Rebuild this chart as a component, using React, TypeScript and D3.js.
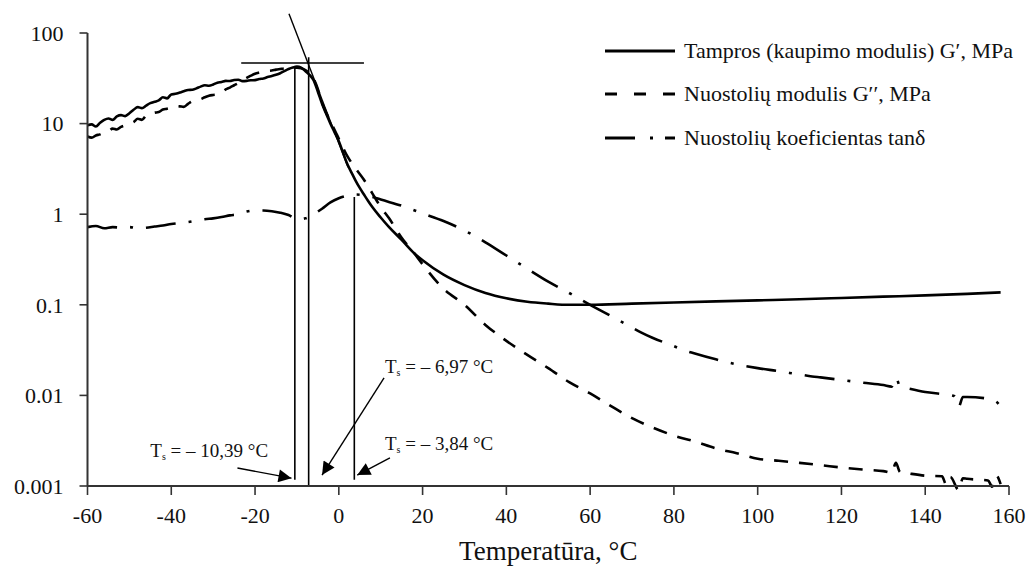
import React from "react";
import * as d3 from "d3";

// ---------- data ----------
const storageT = [-60,-59,-58,-57,-56,-55,-54,-53,-52,-51,-50,-49,-48,-47,-46,-45,-44,-43,-42,-41,-40,-39,-38,-37,-36,-35,-34,-33,-32,-31,-30,-29,-28,-27,-26,-25,-24,-23,-22,-21,-20,-19,-18,-17,-16,-15,-14,-13,-12,-11,-10,-9,-8,-7,-6,-5,-4,-3,-2,-1,0,1,2,3,4,5,6,7,8,10,12,15,18,20,25,30,35,40,45,50,55,60,70,80,90,100,110,120,130,140,150,158];
const storageG = [9.6,9.8,9.3,10.2,11.0,11.4,11.0,12.0,12.4,12.1,13.0,14.2,15.2,14.8,15.8,16.8,17.4,18.0,19.5,19.0,21.0,21.3,22.0,22.8,23.5,23.6,24.5,25.6,26.5,26.2,27.0,28.3,28.8,29.6,29.5,30.3,30.5,29.4,29.6,30.1,30.2,31.0,31.5,32.6,33.5,34.6,36.0,38.0,40.0,41.6,42.5,41.5,38.0,34.5,30.0,22.5,16.5,12.8,10.0,8.0,6.4,4.8,3.6,2.9,2.35,1.95,1.65,1.4,1.2,0.92,0.72,0.52,0.37,0.31,0.215,0.165,0.135,0.118,0.108,0.103,0.1,0.1,0.103,0.106,0.109,0.112,0.115,0.119,0.123,0.127,0.132,0.137];

const lossT = [-60,-59,-58,-57,-56,-55,-54,-53,-52,-51,-50,-49,-48,-47,-46,-45,-44,-43,-42,-41,-40,-39,-38,-37,-36,-35,-34,-33,-32,-31,-30,-29,-28,-27,-26,-25,-24,-23,-22,-21,-20,-19,-18,-17,-16,-15,-14,-13,-12,-11,-10,-9,-8,-7,-6,-5,-4,-3,-2,-1,0,2,4,6,8,10,12,15,18,20,25,30,35,40,45,50,55,60,65,70,75,80,85,90,95,100,105,110,115,120,125,130,132,133,134,135,140,144,145,146,148,149,150,155,156,157,158];
const lossG = [7.2,7.0,7.4,7.6,8.0,8.2,8.8,8.6,9.2,9.6,10.0,10.4,11.3,11.0,12.3,12.8,13.2,13.4,14.3,14.6,15.0,15.6,15.5,15.3,16.5,17.6,18.0,18.6,19.5,20.3,20.7,21.0,22.0,23.8,25.0,26.5,28.0,30.0,32.0,33.8,35.5,36.6,37.5,38.2,38.5,39.4,40.0,40.6,41.0,41.5,41.5,40.8,39.0,35.5,31.0,24.0,17.0,13.2,10.5,8.5,6.8,4.4,3.2,2.4,1.7,1.2,0.9,0.55,0.37,0.28,0.15,0.1,0.06,0.04,0.028,0.02,0.014,0.0105,0.0076,0.0056,0.0044,0.0036,0.0031,0.0026,0.0023,0.002,0.0019,0.0018,0.0017,0.0016,0.00152,0.00146,0.0014,0.0018,0.00142,0.0014,0.0013,0.00128,0.00104,0.00126,0.0009,0.00122,0.0012,0.00115,0.00098,0.0013,0.00105];

const tanT = [-60,-58,-56,-54,-52,-50,-48,-46,-44,-42,-40,-38,-36,-34,-32,-30,-28,-26,-24,-22,-20,-18,-16,-14,-12,-10,-8,-6,-4,-2,0,2,4,6,8,10,15,20,25,30,35,40,45,50,55,60,65,70,72,75,80,82,85,90,95,100,105,110,113,115,120,125,130,132,133,134,135,140,145,147,148,149,150,155,157,158];
const tanD = [0.72,0.74,0.70,0.72,0.71,0.72,0.70,0.71,0.73,0.75,0.78,0.80,0.82,0.85,0.88,0.90,0.93,0.97,1.0,1.07,1.1,1.1,1.08,1.04,0.98,0.88,0.9,1.0,1.15,1.35,1.5,1.6,1.65,1.62,1.55,1.45,1.24,1.02,0.84,0.66,0.49,0.35,0.25,0.18,0.135,0.1,0.075,0.056,0.05,0.043,0.035,0.032,0.029,0.025,0.022,0.02,0.0185,0.017,0.0162,0.0158,0.0148,0.0138,0.013,0.0125,0.0158,0.0125,0.0122,0.0109,0.0102,0.0098,0.0075,0.0096,0.0096,0.0092,0.0085,0.0075];

const xTicks = [-60,-40,-20,0,20,40,60,80,100,120,140,160];
const yTicks = [100,10,1,0.1,0.01,0.001];
const yTickLabels = ["100","10","1","0.1","0.01","0.001"];

const legendLabels = ["Tampros (kaupimo modulis) G′, MPa", "Nuostolių modulis G′′, MPa", "Nuostolių koeficientas tanδ"];

// annotation geometry (data coordinates)
const plateauLine = { t0: -23.3, t1: 6, v: 46.7 };
const tangentLine = { t0: -11.9, v0: 163, t1: 2.2, v1: 3.3 };
const vLines = [
  { t: -10.5, v0: 43, v1: 0.00117 },
  { t: -7.2, v0: 54, v1: 0.001 },
  { t: 3.7, v0: 1.55, v1: 0.00117 },
];
const arrows = [
  { t0: -24.2, v0: 0.00158, t1: -11.3, v1: 0.00122 },
  { t0: 10.8, v0: 0.0156, t1: -4.0, v1: 0.00132 },
  { t0: 12.2, v0: 0.00204, t1: 4.4, v1: 0.00132 },
];
const annLabels = [
  { t: -45, v: 0.00209, value: "– 10,39 °C" },
  { t: 11.0, v: 0.0178, value: "– 6,97 °C" },
  { t: 11.0, v: 0.00252, value: "– 3,84 °C" },
];

const FONT = "'Liberation Serif', 'Times New Roman', serif";

export default function App() {
  const W = 1032, H = 567;
  const x = d3.scaleLinear().domain([-60, 160]).range([87.5, 1009]);
  const y = d3.scaleLog().domain([0.001, 100]).range([486, 33]);

  const mk = (ts: number[], vs: number[]) =>
    d3.line<number>().x((_, i) => x(ts[i])).y((v) => y(v)).curve(d3.curveMonotoneX)(vs) || "";

  const series = [
    { d: mk(storageT, storageG), dash: undefined },
    { d: mk(lossT, lossG), dash: "14 11" },
    { d: mk(tanT, tanD), dash: "30 13 3 13" },
  ];
  const legendDash = [undefined, "12 17", "30 15 3 12 30"];
  const legendY = [51, 94, 138];
  const ts = { fontFamily: FONT };

  return (
    <svg width={W} height={H} style={{ position: "absolute", left: 0, top: 0, background: "#fff" }}>
      <defs>
        <marker id="arrowHead" viewBox="0 0 10 10" refX="10" refY="5" markerWidth="16" markerHeight="13" orient="auto" markerUnits="userSpaceOnUse">
          <path d="M0,0 L10,5 L0,10 z" fill="#000" />
        </marker>
      </defs>

      {/* data */}
      {series.map((s, i) => (
        <path key={i} d={s.d} fill="none" stroke="#000" strokeWidth={2.6} strokeDasharray={s.dash} strokeLinejoin="round" />
      ))}

      {/* annotations */}
      <line x1={x(plateauLine.t0)} x2={x(plateauLine.t1)} y1={y(plateauLine.v)} y2={y(plateauLine.v)} stroke="#000" strokeWidth={1.4} />
      <line x1={x(tangentLine.t0)} y1={y(tangentLine.v0)} x2={x(tangentLine.t1)} y2={y(tangentLine.v1)} stroke="#000" strokeWidth={1.4} />
      {vLines.map((l, i) => (
        <line key={i} x1={x(l.t)} x2={x(l.t)} y1={y(l.v0)} y2={y(l.v1)} stroke="#000" strokeWidth={1.6} />
      ))}
      {arrows.map((a, i) => (
        <line key={i} x1={x(a.t0)} y1={y(a.v0)} x2={x(a.t1)} y2={y(a.v1)} stroke="#000" strokeWidth={1.4} markerEnd="url(#arrowHead)" />
      ))}
      {annLabels.map((l, i) => (
        <text key={i} x={x(l.t)} y={y(l.v)} fontSize={19} fill="#111" style={ts}>
          T<tspan fontSize={10} dy={3}>s</tspan><tspan dy={-3}> = {l.value}</tspan>
        </text>
      ))}

      {/* axes */}
      <line x1={x(-60)} x2={x(-60)} y1={y(100)} y2={y(0.001)} stroke="#333" strokeWidth={2} />
      <line x1={x(-60)} x2={x(160)} y1={y(0.001)} y2={y(0.001)} stroke="#333" strokeWidth={2} />
      {yTicks.map((v, i) => (
        <g key={i}>
          <line x1={x(-60) - 8} x2={x(-60)} y1={y(v)} y2={y(v)} stroke="#333" strokeWidth={1.6} />
          <text x={63.5} y={y(v)} dy="0.35em" textAnchor="end" fontSize={22} fill="#111" style={ts}>{yTickLabels[i]}</text>
        </g>
      ))}
      {xTicks.map((t, i) => (
        <g key={i}>
          <line x1={x(t)} x2={x(t)} y1={y(0.001)} y2={y(0.001) + 9} stroke="#333" strokeWidth={1.6} />
          <text x={x(t)} y={523} textAnchor="middle" fontSize={22} fill="#111" style={ts}>{t}</text>
        </g>
      ))}
      <text x={(x(-60) + x(160)) / 2} y={560} textAnchor="middle" fontSize={27} fill="#111" style={ts}>Temperatūra, °C</text>

      {/* legend */}
      {legendLabels.map((lab, i) => (
        <g key={i}>
          <line x1={605} x2={675} y1={legendY[i]} y2={legendY[i]} stroke="#000" strokeWidth={3} strokeDasharray={legendDash[i]} />
          <text x={684} y={legendY[i]} dy="0.33em" fontSize={22} fill="#111" style={ts}>{lab}</text>
        </g>
      ))}
    </svg>
  );
}
